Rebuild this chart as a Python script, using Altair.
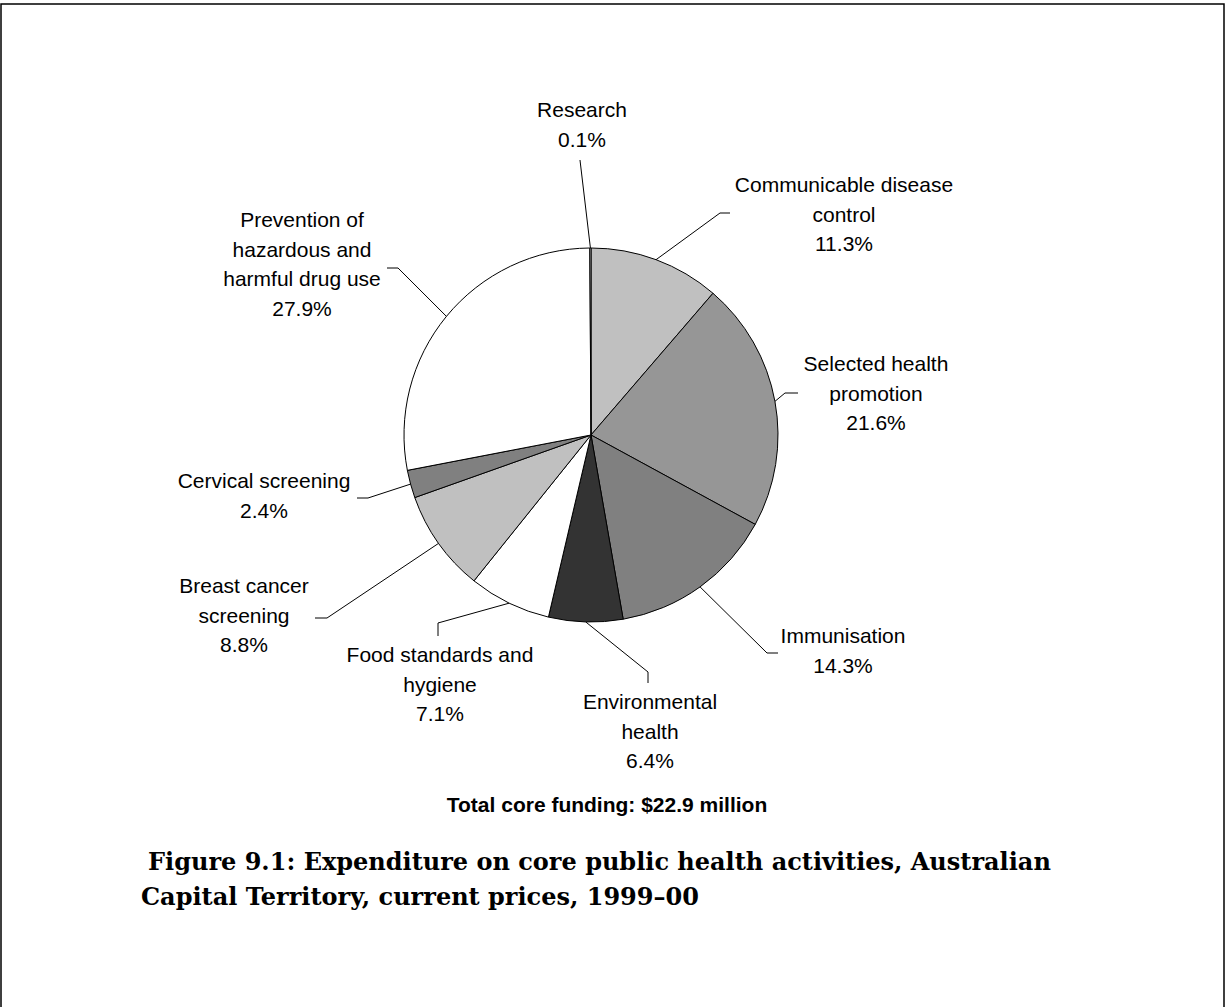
import altair as alt
import pandas as pd

# ---- data ----
categories = [
    "Communicable disease control",
    "Selected health promotion",
    "Immunisation",
    "Environmental health",
    "Food standards and hygiene",
    "Breast cancer screening",
    "Cervical screening",
    "Prevention of hazardous and harmful drug use",
    "Research",
]
shares = [11.3, 21.6, 14.3, 6.4, 7.1, 8.8, 2.4, 27.9, 0.1]
label_names = [
    ["Communicable disease", "control"],
    ["Selected health", "promotion"],
    ["Immunisation"],
    ["Environmental", "health"],
    ["Food standards and", "hygiene"],
    ["Breast cancer", "screening"],
    ["Cervical screening"],
    ["Prevention of", "hazardous and", "harmful drug use"],
    ["Research"],
]
slice_colors = ["#C0C0C0", "#969696", "#808080", "#333333", "#FFFFFF",
                "#C0C0C0", "#808080", "#FFFFFF", "#FFFFFF"]

subtitle_text = ["Total core funding: $22.9 million"]
caption_lines = ["Figure 9.1: Expenditure on core public health activities, Australian",
                 "Capital Territory, current prices, 1999\u201300"]

# ---- layout (pixels) ----
W, H = 1226, 1007
CX, CY, R = 591, 435, 187
label_x = [844, 876, 843, 650, 440, 244, 264, 302, 582]
label_y = [192, 371, 643, 709, 662, 593, 488, 227, 117]
elbow_x = [720, 785, 767, 648, 438, 327, 368, 398, 580]
elbow_y = [213, 393, 653, 672, 623, 618, 498, 268, 160]
end_x = [730, 798, 778, 648, 438, 315, 357, 387, 580]
end_y = [213, 393, 653, 683, 636, 618, 498, 268, 160]
caption_x = [148, 141]
caption_y = [870, 905]

df = pd.DataFrame({
    "category": categories,
    "share": shares,
    "order": list(range(len(categories))),
    "label": ["\n".join(n + [f"{s}%"]) for n, s in zip(label_names, shares)],
    "lx": label_x, "ly": label_y,
    "ex": elbow_x, "ey": elbow_y,
    "tx": end_x, "ty": end_y,
})

base = alt.Chart(df)

pie = base.mark_arc(radius=R, stroke="black", strokeWidth=1).encode(
    theta=alt.Theta("share:Q", stack=True),
    order=alt.Order("order:Q"),
    color=alt.Color("category:N", scale=alt.Scale(domain=categories, range=slice_colors), legend=None),
    x=alt.value(CX),
    y=alt.value(CY),
)

leader = base.transform_window(
    cum="sum(share)", sort=[alt.SortField("order")], frame=[None, 0]
).transform_joinaggregate(
    total="sum(share)"
).transform_calculate(
    mid="(datum.cum - datum.share/2) / datum.total * 2 * PI",
    sx=f"{CX} + {R} * sin(datum.mid)",
    sy=f"{CY} - {R} * cos(datum.mid)",
).mark_rule(color="black", strokeWidth=1).encode(
    x=alt.X("sx:Q", scale=None),
    y=alt.Y("sy:Q", scale=None),
    x2="ex:Q",
    y2="ey:Q",
)

tick = base.mark_rule(color="black", strokeWidth=1).encode(
    x=alt.X("ex:Q", scale=None),
    y=alt.Y("ey:Q", scale=None),
    x2="tx:Q",
    y2="ty:Q",
)

labels = base.mark_text(
    font="Liberation Sans", fontSize=21, lineHeight=29.5, align="center",
    baseline="alphabetic", lineBreak="\n", color="black"
).encode(
    x=alt.X("lx:Q", scale=None),
    y=alt.Y("ly:Q", scale=None),
    text="label:N",
)

sub_df = pd.DataFrame({"t": subtitle_text})
subtitle = alt.Chart(sub_df).mark_text(
    font="Liberation Sans", fontSize=21, fontWeight="bold", align="center",
    baseline="alphabetic", color="black"
).encode(x=alt.value(607), y=alt.value(812), text="t:N")

cap_df = pd.DataFrame({"t": caption_lines, "cx": caption_x, "cy": caption_y})
caption = alt.Chart(cap_df).mark_text(
    font="DejaVu Serif", fontSize=24, fontWeight="bold", align="left",
    baseline="alphabetic", color="black"
).encode(x=alt.X("cx:Q", scale=None), y=alt.Y("cy:Q", scale=None), text="t:N")

frame = alt.Chart(sub_df).mark_rect(fillOpacity=0, stroke="black", strokeWidth=1.5).encode(
    x=alt.value(1), x2=alt.value(1224), y=alt.value(4), y2=alt.value(1030)
)

chart = alt.layer(frame, pie, leader, tick, labels, subtitle, caption).properties(
    width=W, height=H, autosize="none", padding=0
).configure_view(stroke=None)

chart.save("out.html", embed_options={"renderer": "svg", "actions": False})
